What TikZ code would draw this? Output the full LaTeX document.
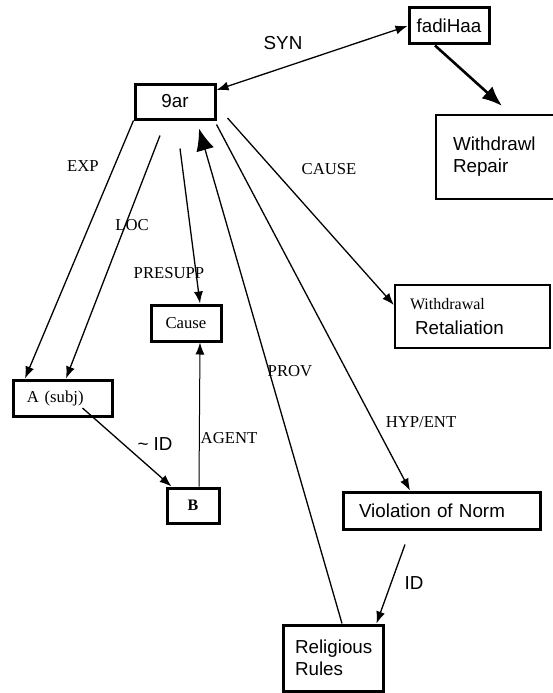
\documentclass[tikz,border=0pt]{standalone}
\usepackage{fontspec}
\setmainfont{Liberation Serif}
\newfontfamily\arialfont{Liberation Sans}
\usetikzlibrary{arrows.meta}

\begin{document}
\begin{tikzpicture}[x=1pt,y=-1pt,>={Latex[length=12pt,width=9pt]},line width=1.3pt,
    box/.style={draw,line width=3pt,inner sep=0pt,align=left,font=\arialfont\fontsize{18.8}{22}\selectfont},
    tbox/.style={box,font=\fontsize{16.7}{20}\selectfont},
    lbl/.style={inner sep=0pt,font=\fontsize{16.7}{20}\selectfont},
    slbl/.style={inner sep=0pt,font=\arialfont\fontsize{18.8}{22}\selectfont}]
    \useasboundingbox (0,0) rectangle (552,693);
    % boxes
    \node[box,minimum width=80pt,minimum height=36pt] (fadi) at (449,26) {fadiHaa};
    \node[box,minimum width=80pt,minimum height=35pt] (ar) at (175,101.5) {9ar};
    \node[box,line width=2.2pt,minimum width=124pt,minimum height=84pt,text width=90pt] (repair) at (498,157) {Withdrawl\\Repair};
    \node[box,line width=2.2pt,minimum width=155pt,minimum height=63pt,text width=125pt,font=\arialfont\fontsize{18.8}{25}\selectfont] (retal) at (472.5,316.5)
        {{\rmfamily\fontsize{16}{25}\selectfont Withdrawal}\\\hspace*{5pt}Retaliation};
    \node[tbox,align=center,minimum width=70pt,minimum height=36pt] (cause) at (186,323) {Cause};
    \node[tbox,minimum width=99pt,minimum height=36pt,text width=71pt] (subj) at (62.5,398) {A (subj)};
    \node[tbox,align=center,minimum width=52pt,minimum height=35pt,font=\bfseries\fontsize{16}{18}\selectfont] (B) at (193,505.5) {B};
    \node[box,minimum width=197pt,minimum height=37pt,text width=165pt] (viol) at (441.5,510.5) {Violation of Norm};
    \node[box,minimum width=100pt,minimum height=66pt,text width=76pt] (relig) at (333,658) {Religious\\Rules};
    % relations
    \draw[<->] (fadi.west) -- ([yshift=11.5pt]ar.east);
    \draw[line width=2.6pt,-{Latex[length=20pt,width=16pt]}] ([xshift=-14pt]fadi.south) -- ([xshift=4pt,yshift=8pt]repair.north);
    \draw[->] (ar.south west) -- ([xshift=13.5pt]subj.north west);
    \draw[->] ([xshift=-15pt,yshift=-15pt]ar.south) -- ([xshift=54.5pt]subj.north west);
    \draw[->] ([xshift=5pt,yshift=-28pt]ar.south) -- ([xshift=14pt]cause.north);
    \draw[-{Latex[length=22pt,width=18pt]}] ([xshift=9pt]relig.north) -- ([xshift=24pt,yshift=-8pt]ar.south);
    \draw[->] ([yshift=-4pt]ar.south east) -- ([xshift=-31.5pt]viol.north);
    \draw[->] ([xshift=11pt,yshift=2.5pt]ar.south east) -- ([yshift=11.5pt]retal.west);
    \draw[->,line width=1pt] ([xshift=6pt]B.north) -- ([xshift=14pt]cause.south);
    \draw[->] ([xshift=20pt,yshift=-10pt]subj.center) -- ([xshift=6pt]B.north west);
    \draw[->] ([xshift=-36.5pt,yshift=-14pt]viol.south) -- ([xshift=-8pt]relig.north east);
    % labels
    \node[slbl] (synl) at (283,43) {SYN};
    \node[lbl] (expl) at (83,166) {EXP};
    \node[lbl] (locl) at (132,225) {LOC};
    \node[lbl] (causel) at (329,169) {CAUSE};
    \node[lbl] (presl) at (169,273) {PRESUPP};
    \node[lbl] (provl) at (290,371) {PROV};
    \node[lbl] (hypl) at (421,422) {HYP/ENT};
    \node[slbl] (nidl) at (155,444) {\textasciitilde{} ID};
    \node[lbl] (agentl) at (229,438) {AGENT};
    \node[slbl] (idl) at (414,583) {ID};
\end{tikzpicture}
\end{document}
